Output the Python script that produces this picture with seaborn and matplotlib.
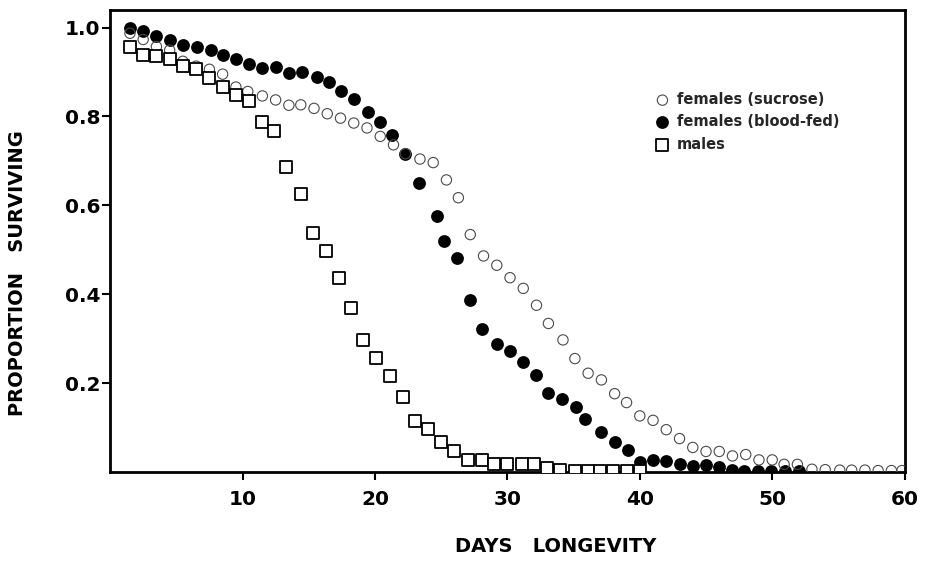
import matplotlib
matplotlib.use("Agg")
import matplotlib.pyplot as plt
import seaborn as sns

# survival curves (day, proportion surviving)
suc_day = [1.5, 2.5, 3.5, 4.5, 5.5, 6.5, 7.5, 8.5, 9.5, 10.4, 11.5, 12.5, 13.5, 14.4, 15.4,
           16.4, 17.4, 18.4, 19.4, 20.4, 21.4, 22.3, 23.4, 24.4, 25.4, 26.3, 27.2, 28.2, 29.2, 30.2,
           31.2, 32.2, 33.1, 34.2, 35.1, 36.1, 37.1, 38.1, 39, 40, 41, 42, 43, 44, 45,
           46, 47, 48, 49, 50, 50.9, 51.9, 53, 54, 55.1, 56, 57, 58, 59, 59.8]
suc_prop = [0.987, 0.973, 0.957, 0.949, 0.924, 0.913, 0.906, 0.895, 0.866, 0.856,
            0.846, 0.837, 0.825, 0.826, 0.818, 0.806, 0.796, 0.785, 0.774, 0.755,
            0.736, 0.716, 0.704, 0.696, 0.657, 0.617, 0.534, 0.486, 0.465, 0.437,
            0.413, 0.375, 0.334, 0.297, 0.255, 0.222, 0.207, 0.176, 0.156, 0.126,
            0.116, 0.095, 0.075, 0.055, 0.046, 0.046, 0.036, 0.039, 0.027, 0.027,
            0.017, 0.017, 0.006, 0.005, 0.004, 0.004, 0.004, 0.003, 0.003, 0.003]

bf_day = [1.5, 2.5, 3.5, 4.5, 5.5, 6.6, 7.6, 8.5, 9.5, 10.5, 11.5, 12.5, 13.5, 14.5, 15.6,
          16.5, 17.4, 18.4, 19.5, 20.4, 21.3, 22.3, 23.3, 24.7, 25.2, 26.2, 27.2, 28.1, 29.2, 30.2,
          31.2, 32.2, 33.1, 34.1, 35.2, 35.9, 37.1, 38.1, 39.1, 40, 41, 42, 43, 44, 45,
          46, 47, 47.9, 48.9, 49.9, 51, 52]
bf_prop = [1.0, 0.993, 0.981, 0.971, 0.96, 0.957, 0.95, 0.937, 0.928, 0.917,
           0.908, 0.911, 0.898, 0.899, 0.889, 0.878, 0.857, 0.838, 0.809, 0.787,
           0.757, 0.716, 0.651, 0.575, 0.52, 0.482, 0.387, 0.321, 0.287, 0.273,
           0.248, 0.218, 0.178, 0.165, 0.147, 0.119, 0.09, 0.068, 0.049, 0.023,
           0.026, 0.024, 0.017, 0.013, 0.015, 0.01, 0.004, 0.003, 0.002, 0.002,
           0.002, 0.002]

male_day = [1.5, 2.5, 3.5, 4.5, 5.5, 6.5, 7.5, 8.5, 9.5, 10.5, 11.5, 12.4, 13.3, 14.4, 15.3,
            16.3, 17.3, 18.2, 19.1, 20.1, 21.1, 22.1, 23, 24, 25, 26, 27, 28.1, 29, 30,
            31.1, 32, 33, 34, 35.1, 36.1, 37, 38, 39, 40]
male_prop = [0.957, 0.938, 0.936, 0.928, 0.913, 0.906, 0.886, 0.865, 0.849, 0.834,
             0.788, 0.766, 0.687, 0.626, 0.538, 0.498, 0.437, 0.368, 0.296, 0.257,
             0.215, 0.168, 0.115, 0.097, 0.067, 0.048, 0.026, 0.027, 0.017, 0.017,
             0.018, 0.017, 0.009, 0.005, 0.002, 0.002, 0.002, 0.002, 0.002, 0.002]

x_ticks = [10, 20, 30, 40, 50, 60]
y_ticks = [0.2, 0.4, 0.6, 0.8, 1.0]

sns.set_style("ticks")
plt.rcParams['font.family'] = ['DejaVu Sans']

fig, ax = plt.subplots(figsize=(9.25, 5.72), dpi=100)
fig.subplots_adjust(left=0.119, right=0.978, bottom=0.175, top=0.983)

sns.scatterplot(x=bf_day, y=bf_prop, ax=ax, marker='o', s=85, color='black',
                edgecolor='black', linewidth=0, label='females (blood-fed)', zorder=3)
sns.scatterplot(x=suc_day, y=suc_prop, ax=ax, marker='o', s=55, facecolors='none',
                edgecolor='#4a4a4a', linewidth=0.8, label='females (sucrose)', zorder=4)
sns.scatterplot(x=male_day, y=male_prop, ax=ax, marker='s', s=70, facecolors='white',
                edgecolor='black', linewidth=1.3, label='males', zorder=5)

ax.set_xlim(0, 60)
ax.set_ylim(0, 1.04)
ax.set_xticks(x_ticks)
ax.set_yticks(y_ticks)
ax.set_xticklabels([str(t) for t in x_ticks])
ax.set_yticklabels(['%.1f' % t for t in y_ticks])
ax.tick_params(axis='both', direction='out', length=6, width=1.5, labelsize=14.5, colors='black')
ax.tick_params(axis='x', pad=7)
ax.tick_params(axis='y', pad=1)
for lab in ax.get_xticklabels() + ax.get_yticklabels():
    lab.set_fontweight('bold')
for side in ['left', 'bottom', 'right', 'top']:
    ax.spines[side].set_visible(True)
    ax.spines[side].set_linewidth(2)
    ax.spines[side].set_color('black')

ax.set_xlabel('DAYS   LONGEVITY', fontsize=14, fontweight='bold', color='black')
ax.set_ylabel('PROPORTION   SURVIVING', fontsize=14, fontweight='bold', color='black')
ax.xaxis.set_label_coords(0.561, -0.14)
ax.yaxis.set_label_coords(-0.105, 0.43)

# legend order as in the figure
h, l = ax.get_legend_handles_labels()
order = [l.index('females (sucrose)'), l.index('females (blood-fed)'), l.index('males')]
ax.legend([h[i] for i in order], [l[i] for i in order], loc='upper left',
          bbox_to_anchor=(0.686, 0.822), frameon=False, borderaxespad=0, borderpad=0,
          handlelength=1.0, handletextpad=0.5, labelspacing=0.5,
          prop={'weight': 'bold', 'size': 10.5})

plt.savefig('out.png', dpi=100)
